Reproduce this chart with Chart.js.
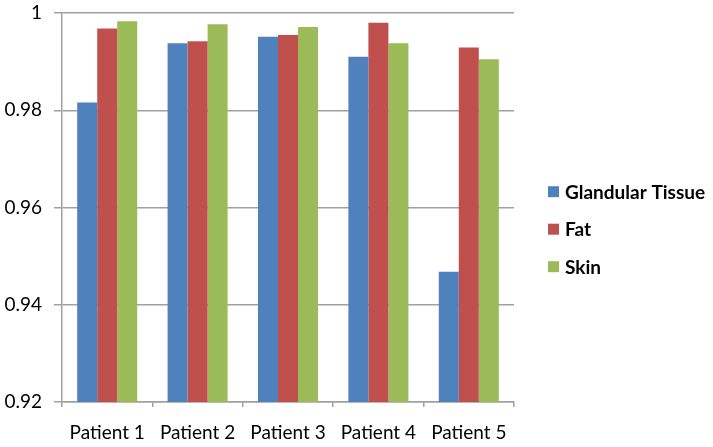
<!DOCTYPE html>
<html>
<head>
<meta charset="utf-8">
<script src="https://cdn.jsdelivr.net/npm/chart.js@4/dist/chart.umd.min.js"></script>
<style>
  html, body { margin: 0; padding: 0; background: #fff; }
  #wrap { width: 713px; height: 447px; position: relative; }
</style>
</head>
<body>
<div id="wrap"><canvas id="c" width="713" height="447"></canvas></div>
<script>
const categories = ["Patient 1", "Patient 2", "Patient 3", "Patient 4", "Patient 5"];
const glandularTissue = [0.9816, 0.9938, 0.9951, 0.9910, 0.9468];
const fat = [0.9968, 0.9942, 0.9955, 0.9980, 0.9929];
const skin = [0.9983, 0.9977, 0.9971, 0.9938, 0.9905];
const seriesNames = ["Glandular Tissue", "Fat", "Skin"];
const seriesColors = ["#4F81BD", "#C0504D", "#9BBB59"];
const yTicks = [0.92, 0.94, 0.96, 0.98, 1];

const FONT = "Lato, 'DejaVu Sans', sans-serif";

const customLegend = {
  id: 'customLegend',
  afterDraw(chart) {
    const ctx = chart.ctx;
    ctx.save();
    ctx.font = "bold 19px " + FONT;
    ctx.textBaseline = 'middle';
    ctx.textAlign = 'left';
    const startY = 191.7, step = 37.5;
    chart.data.datasets.forEach((ds, i) => {
      const y = startY + i * step;
      ctx.fillStyle = ds.backgroundColor;
      ctx.fillRect(548, y - 5.5, 11, 11);
      ctx.fillStyle = '#000';
      ctx.fillText(ds.label, 565, y + 1);
    });
    ctx.restore();
  }
};

new Chart(document.getElementById('c'), {
  type: 'bar',
  data: {
    labels: categories,
    datasets: [
      { label: seriesNames[0], data: glandularTissue, backgroundColor: seriesColors[0] },
      { label: seriesNames[1], data: fat, backgroundColor: seriesColors[1] },
      { label: seriesNames[2], data: skin, backgroundColor: seriesColors[2] }
    ]
  },
  options: {
    responsive: false,
    animation: false,
    devicePixelRatio: 1,
    layout: { padding: { top: 13, right: 199, bottom: 0, left: 0 } },
    datasets: { bar: { categoryPercentage: 0.664, barPercentage: 1.0, borderWidth: 0 } },
    plugins: { legend: { display: false }, tooltip: { enabled: false } },
    scales: {
      x: {
        offset: true,
        grid: { offset: true, drawOnChartArea: false, drawTicks: true, tickLength: 5, color: '#a0a0a0', lineWidth: 1.5 },
        border: { display: true, color: '#a0a0a0', width: 1.5 },
        ticks: { color: '#000', font: { family: FONT, size: 19 }, padding: 14 },
        afterFit(scale) { scale.height = 45; scale.paddingLeft = 0; scale.paddingRight = 0; }
      },
      y: {
        min: 0.92, max: 1,
        afterBuildTicks(scale) { scale.ticks = yTicks.map(v => ({ value: v })); },
        grid: { color: '#a0a0a0', lineWidth: 1.5, tickLength: 8, drawTicks: true },
        border: { display: true, color: '#a0a0a0', width: 1.5 },
        ticks: {
          color: '#000', font: { family: FONT, size: 19 }, padding: 12,
          callback: (v) => String(Number(v.toFixed(2)))
        },
        afterFit(scale) { scale.width = 62; scale.paddingTop = 0; scale.paddingBottom = 0; }
      }
    }
  },
  plugins: [customLegend]
});
</script>
</body>
</html>
